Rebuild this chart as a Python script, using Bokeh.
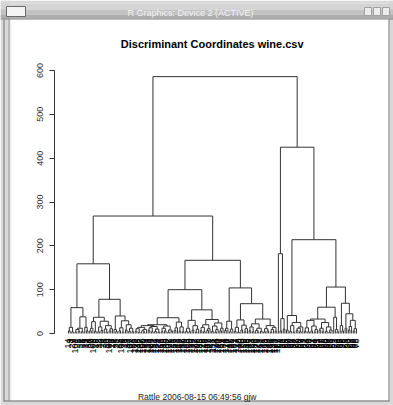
import numpy as np
from bokeh.plotting import figure
from bokeh.models import Range1d, LinearAxis, FixedTicker
from bokeh.core.properties import value
from bokeh.embed import file_html
from bokeh.resources import INLINE

# ---------------- data ----------------
window_title = "R Graphics: Device 2 (ACTIVE)"
title_text = "Discriminant Coordinates wine.csv"
footer_text = "Rattle 2006-08-15 06:49:56 gjw"
y_ticks = [0, 100, 200, 300, 400, 500, 600]

# leaf labels in plotting order (left to right)
leaf_labels = [
    14, 3, 27, 9, 101, 22, 5, 31, 18, 1, 25, 12, 34, 7, 20, 103, 29, 16, 2, 33,
    10, 24, 8, 30, 19, 100, 13, 26, 4, 35, 21, 15, 104, 6, 28, 11, 32, 17, 102, 23, 105,
    112, 38, 145, 127, 106, 160, 41, 133, 118, 171, 109, 152, 44, 139, 124, 166, 115, 99,
    148, 130, 107, 176, 121, 36, 157, 142, 113, 169, 47, 135, 110, 163, 126, 150, 39, 119,
    172, 137, 108, 155, 45, 128, 146, 116, 167, 132, 42, 153, 111, 174, 140, 122, 37, 159,
    134, 114, 178, 147, 48, 125, 161, 131, 117, 143, 40, 170, 120, 156, 136, 46, 149, 123,
    164, 138, 175, 129, 43, 151, 141, 165, 158, 49, 144, 168, 154, 173, 162, 177,
    63, 51, 88, 72, 95, 57, 80, 66, 92, 54, 77, 85, 60, 97, 69, 83, 52, 74, 90, 58,
    81, 64, 94, 71, 55, 87, 62, 79, 96, 50, 68, 84, 75, 59, 91, 73, 56, 86, 67, 98,
    78, 61, 93, 70, 82, 53, 89, 65, 76,
]

# height at which each pair of neighbouring leaves is joined (dendrogram order)
merge_heights = [
    6, 14, 4, 59, 3, 9, 5, 12, 4, 38, 14, 6, 159,
    6, 12, 27, 5, 37, 4, 15, 7, 28, 10, 3, 18, 6, 11, 78, 9, 4, 40,
    6, 13, 3, 29, 8, 20, 5, 12, 4, 268,
    5, 11, 3, 14, 6, 2, 9, 18,
    7, 13, 4, 16, 5, 10, 3, 20,
    4, 12, 6, 17, 3, 8, 5, 36,
    7, 13, 26, 5, 15, 4, 100,
    5, 12, 4, 30, 8, 18, 3, 10, 54,
    6, 14, 4, 20, 7, 11, 32, 5, 17, 3, 9, 24, 6, 12, 167,
    7, 12, 28, 4, 10, 104,
    5, 14, 3, 31, 8, 19, 4, 11, 68,
    6, 15, 4, 22, 7, 3, 12, 5, 33,
    4, 11, 6, 18, 3, 9, 14, 5, 586,
    182, 6, 34, 10, 425,
    8, 41, 5, 18, 3, 25, 7, 12, 4, 15, 214,
    5, 13, 4, 30, 6, 17, 3, 9, 33,
    7, 12, 4, 25, 5, 15, 3, 8, 60,
    37, 9, 4, 106,
    18, 6, 69, 12, 45, 8, 16, 30, 5, 11,
]

# ---------------- build dendrogram paths ----------------
gaps = np.array(merge_heights, dtype=float)
xs_paths, ys_paths = [], []


def build(a, b):
    if a == b:
        return float(a + 1), 0.0
    k = a + int(np.argmax(gaps[a:b]))
    lx, lh = build(a, k)
    rx, rh = build(k + 1, b)
    h = gaps[k]
    xs_paths.append([lx, lx, rx, rx])
    ys_paths.append([lh, h, h, rh])
    return (lx + rx) / 2.0, h


build(0, len(leaf_labels) - 1)

# ---------------- figure ----------------
p = figure(width=393, height=405, output_backend="svg", toolbar_location=None,
           x_range=Range1d(-40.79, 200.75), y_range=Range1d(-164.26, 759.7),
           x_axis_type=None, y_axis_type=None, min_border=0,
           outline_line_color=None, background_fill_color="white",
           border_fill_color="white")
p.extra_x_ranges = {"rx": Range1d(0, 393)}
p.extra_y_ranges = {"ry": Range1d(405, 0)}

RX = dict(x_range_name="rx", y_range_name="ry")

# window frame
p.quad(left=[0, 0, 388, 0], right=[10, 393, 393, 393], top=[0, 0, 0, 400],
       bottom=[405, 3, 405, 405], fill_color="#d9d9d9", line_color=None, **RX)
p.segment(x0=[3.5, 8.5, 388.5, 3.5], y0=[19, 19, 19, 400.5],
          x1=[3.5, 8.5, 388.5, 389], y1=[401, 400, 401, 400.5],
          line_color=["#6e6e6e", "#9a9a9a", "#8a8a8a", "#6e6e6e"], line_width=1, **RX)
# title bar
p.quad(left=[0, 0, 0, 0], right=[393, 393, 393, 393], top=[3, 9, 14, 18],
       bottom=[9, 14, 18, 19],
       fill_color=["#d4d4d4", "#c2c2c2", "#adadad", "#7c7c7c"], line_color=None, **RX)
p.quad(left=[6], right=[25], top=[6], bottom=[16], fill_color="#f4f4f4",
       line_color="#6a6a6a", **RX)
p.quad(left=[364, 373, 382], right=[371, 380, 389], top=[7, 7, 7], bottom=[15, 15, 15],
       fill_color="#ececec", line_color="#a0a0a0", **RX)
p.text(x=[190], y=[12.5], text=[window_title], text_align="center", text_baseline="middle",
       text_font=value("Liberation Sans"), text_font_size="9px", text_color="#f2f2f2", **RX)

# titles
p.text(x=[211.7], y=[43], text=[title_text], text_align="center", text_baseline="middle",
       text_font=value("Liberation Sans"), text_font_size="11px", text_font_style="bold",
       text_color="black", **RX)
p.text(x=[196.7], y=[396.5], text=[footer_text], text_align="center", text_baseline="middle",
       text_font=value("Liberation Sans"), text_font_size="8.5px", text_color="#222222", **RX)

# dendrogram
p.multi_line(xs=xs_paths, ys=ys_paths, line_color="#333333", line_width=1)

# leaf labels
leaf_x = [i + 1 for i in range(len(leaf_labels))]
p.text(x=leaf_x, y=[-11.4] * len(leaf_labels), text=[str(v) for v in leaf_labels],
       angle=np.pi / 2, text_align="right", text_baseline="middle",
       text_font=value("Liberation Sans"), text_font_size="9px", text_color="black")

# y axis
yaxis = LinearAxis(fixed_location=-7.605, ticker=FixedTicker(ticks=y_ticks), bounds=(0, 600),
                   major_tick_out=5, major_tick_in=0, minor_tick_out=0, minor_tick_in=0,
                   major_label_orientation="vertical", major_label_standoff=6,
                   major_label_text_font_size="9px",
                   major_label_text_font="Liberation Sans",
                   axis_line_color="#333333", major_tick_line_color="#333333",
                   major_label_text_color="#333333")
p.add_layout(yaxis, "left")

open("out.html", "w").write(file_html(p, INLINE))
